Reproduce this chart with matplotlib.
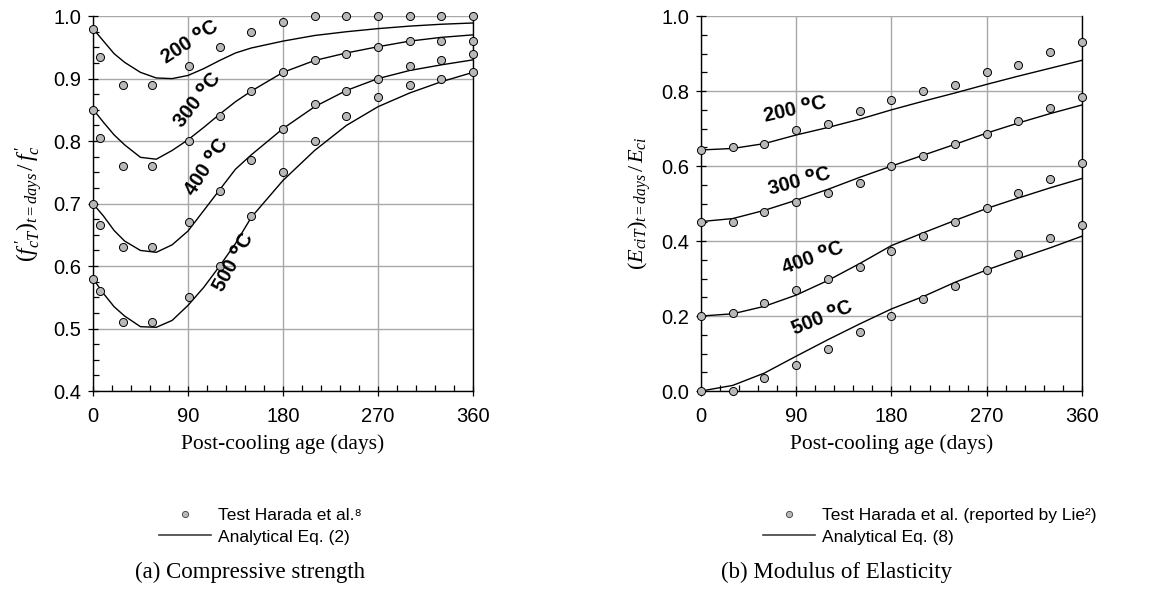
import matplotlib
matplotlib.use("Agg")
import matplotlib.pyplot as plt
from matplotlib.ticker import MultipleLocator, FormatStrFormatter
from matplotlib.lines import Line2D

plt.rcParams['mathtext.fontset'] = 'custom'
plt.rcParams['mathtext.it'] = 'Liberation Serif:italic'
plt.rcParams['mathtext.rm'] = 'Liberation Serif'
plt.rcParams['font.family'] = ['Liberation Sans', 'DejaVu Sans']

# ---- (a) compressive strength ----
days_a = [0, 7, 28, 56, 91, 120, 150, 180, 210, 240, 270, 300, 330, 360]
test_a = {
    '200': [0.98, 0.935, 0.89, 0.89, 0.92, 0.95, 0.975, 0.99, 1.0, 1.0, 1.0, 1.0, 1.0, 1.0],
    '300': [0.85, 0.805, 0.76, 0.76, 0.80, 0.84, 0.88, 0.91, 0.93, 0.94, 0.95, 0.96, 0.96, 0.96],
    '400': [0.70, 0.665, 0.63, 0.63, 0.67, 0.72, 0.77, 0.82, 0.86, 0.88, 0.90, 0.92, 0.93, 0.94],
    '500': [0.58, 0.56, 0.51, 0.51, 0.55, 0.60, 0.68, 0.75, 0.80, 0.84, 0.87, 0.89, 0.90, 0.91],
}
curve_days_a = [0, 10, 20, 30, 45, 60, 75, 90, 105, 120, 135, 150, 180, 210, 240, 270, 300, 330, 360]
curve_a = {
    '200': [0.98, 0.96, 0.94, 0.926, 0.91, 0.901, 0.900, 0.905, 0.916, 0.929, 0.941, 0.949,
            0.96, 0.969, 0.975, 0.98, 0.984, 0.987, 0.989],
    '300': [0.851, 0.83, 0.81, 0.794, 0.774, 0.771, 0.785, 0.802, 0.822, 0.843, 0.863, 0.88,
            0.91, 0.929, 0.941, 0.951, 0.96, 0.966, 0.97],
    '400': [0.70, 0.68, 0.657, 0.64, 0.625, 0.622, 0.634, 0.656, 0.689, 0.722, 0.755, 0.778,
            0.82, 0.855, 0.881, 0.90, 0.913, 0.922, 0.93],
    '500': [0.58, 0.556, 0.535, 0.52, 0.503, 0.502, 0.513, 0.537, 0.566, 0.60, 0.636, 0.678,
            0.737, 0.785, 0.825, 0.855, 0.877, 0.895, 0.91],
}
# label positions (day, value, rotation)
labels_a = {'200': (92, 0.957, 33), '300': (99, 0.865, 52), '400': (108, 0.758, 57), '500': (134, 0.606, 61)}

# ---- (b) modulus of elasticity ----
days_b = [0, 30, 60, 90, 120, 150, 180, 210, 240, 270, 300, 330, 360]
test_b = {
    '200': [0.643, 0.652, 0.660, 0.695, 0.712, 0.748, 0.775, 0.80, 0.816, 0.852, 0.870, 0.904, 0.930],
    '300': [0.452, 0.452, 0.478, 0.504, 0.529, 0.556, 0.599, 0.626, 0.660, 0.686, 0.721, 0.756, 0.783],
    '400': [0.20, 0.208, 0.234, 0.269, 0.30, 0.33, 0.374, 0.414, 0.452, 0.487, 0.529, 0.565, 0.608],
    '500': [0.0, 0.0, 0.035, 0.07, 0.113, 0.157, 0.20, 0.245, 0.28, 0.322, 0.366, 0.408, 0.443],
}
curve_b = {
    '200': [0.643, 0.647, 0.660, 0.683, 0.703, 0.725, 0.750, 0.773, 0.795, 0.818, 0.840, 0.861, 0.882],
    '300': [0.452, 0.460, 0.482, 0.509, 0.538, 0.570, 0.600, 0.629, 0.658, 0.688, 0.715, 0.740, 0.763],
    '400': [0.20, 0.206, 0.226, 0.256, 0.295, 0.34, 0.388, 0.422, 0.455, 0.487, 0.515, 0.542, 0.567],
    '500': [0.0, 0.015, 0.048, 0.093, 0.137, 0.179, 0.219, 0.252, 0.29, 0.323, 0.353, 0.382, 0.413],
}
labels_b = {'200': (89, 0.749, 13), '300': (93, 0.557, 15), '400': (106, 0.354, 20), '500': (115, 0.194, 22)}

fig = plt.figure(figsize=(11.59, 5.97), dpi=100)
fig.patch.set_facecolor('white')
ax1 = fig.add_axes([0.0802, 0.345, 0.3279, 0.628])
ax2 = fig.add_axes([0.6048, 0.345, 0.3287, 0.628])

mk = dict(marker='o', ls='none', ms=5.8, mfc='#b8b8b8', mec='black', mew=0.7, zorder=4, clip_on=False)


def style(ax, ymin, ymax, ymaj, ymin_step):
    ax.set_xlim(0, 360)
    ax.set_ylim(ymin, ymax)
    ax.xaxis.set_major_locator(MultipleLocator(90))
    ax.xaxis.set_minor_locator(MultipleLocator(18))
    ax.yaxis.set_major_locator(MultipleLocator(ymaj))
    ax.yaxis.set_minor_locator(MultipleLocator(ymin_step))
    ax.yaxis.set_major_formatter(FormatStrFormatter('%.1f'))
    ax.grid(True, which='major', color='#a8a8a8', lw=1.0, zorder=0)
    ax.spines['top'].set_visible(False)
    for s in ['left', 'bottom', 'right']:
        ax.spines[s].set_color('black')
        ax.spines[s].set_linewidth(1.0)
    ax.tick_params(which='major', direction='inout', length=7, width=0.9, labelsize=14.5, pad=5)
    ax.tick_params(axis='x', which='major', pad=8)
    ax.tick_params(which='minor', direction='in', length=4, width=0.9)
    ax.set_xlabel('Post-cooling age (days)', fontfamily='Liberation Serif', fontsize=15.5, labelpad=6)


style(ax1, 0.4, 1.0, 0.1, 0.025)
for k in ['200', '300', '400', '500']:
    ax1.plot(curve_days_a, curve_a[k], color='black', lw=1.0, zorder=3)
    ax1.plot(days_a, test_a[k], **mk)
    d, v, r = labels_a[k]
    ax1.text(d, v, k + ' $^{\\mathbf{o}}$C', rotation=r, rotation_mode='anchor', ha='center', va='center',
             fontsize=14.5, fontweight='bold', zorder=5)
ax1.set_ylabel(r"$(f^{\,\prime}_{cT})_{t=days}\,/\,f^{\,\prime}_{c}$", fontsize=17, labelpad=6)

style(ax2, 0.0, 1.0, 0.2, 0.05)
for k in ['200', '300', '400', '500']:
    ax2.plot(days_b, curve_b[k], color='black', lw=1.0, zorder=3)
    ax2.plot(days_b, test_b[k], **mk)
    d, v, r = labels_b[k]
    ax2.text(d, v, k + ' $^{\\mathbf{o}}$C', rotation=r, rotation_mode='anchor', ha='center', va='center',
             fontsize=14.5, fontweight='bold', zorder=5)
ax2.set_ylabel(r"$(E_{ciT})_{t=days}\,/\,E_{ci}$", fontsize=16, labelpad=6)

# legends below each panel
narrow = ['Liberation Sans Narrow', 'DejaVu Sans Condensed', 'Liberation Sans', 'DejaVu Sans']
h_test = Line2D([], [], marker='o', ls='none', ms=4.5, mfc='#b8b8b8', mec='#404040', mew=0.6)
h_line = Line2D([], [], color='#404040', lw=1.2)
leg1 = fig.legend([h_test, h_line], ['Test Harada et al.\u2078', 'Analytical Eq. (2)'],
                  loc='upper left', bbox_to_anchor=(0.124, 0.175), frameon=False,
                  handlelength=3.0, handletextpad=0.4, labelspacing=0.35,
                  prop={'family': narrow, 'size': 12.5})
leg2 = fig.legend([h_test, h_line], ['Test Harada et al. (reported by Lie\u00b2)', 'Analytical Eq. (8)'],
                  loc='upper left', bbox_to_anchor=(0.645, 0.175), frameon=False,
                  handlelength=3.0, handletextpad=0.4, labelspacing=0.35,
                  prop={'family': narrow, 'size': 12.5})

fig.text(0.216, 0.042, '(a) Compressive strength', ha='center', va='center',
         fontfamily='Liberation Serif', fontsize=16.5)
fig.text(0.722, 0.042, '(b) Modulus of Elasticity', ha='center', va='center',
         fontfamily='Liberation Serif', fontsize=16.5)

fig.savefig('out.png', dpi=100)
